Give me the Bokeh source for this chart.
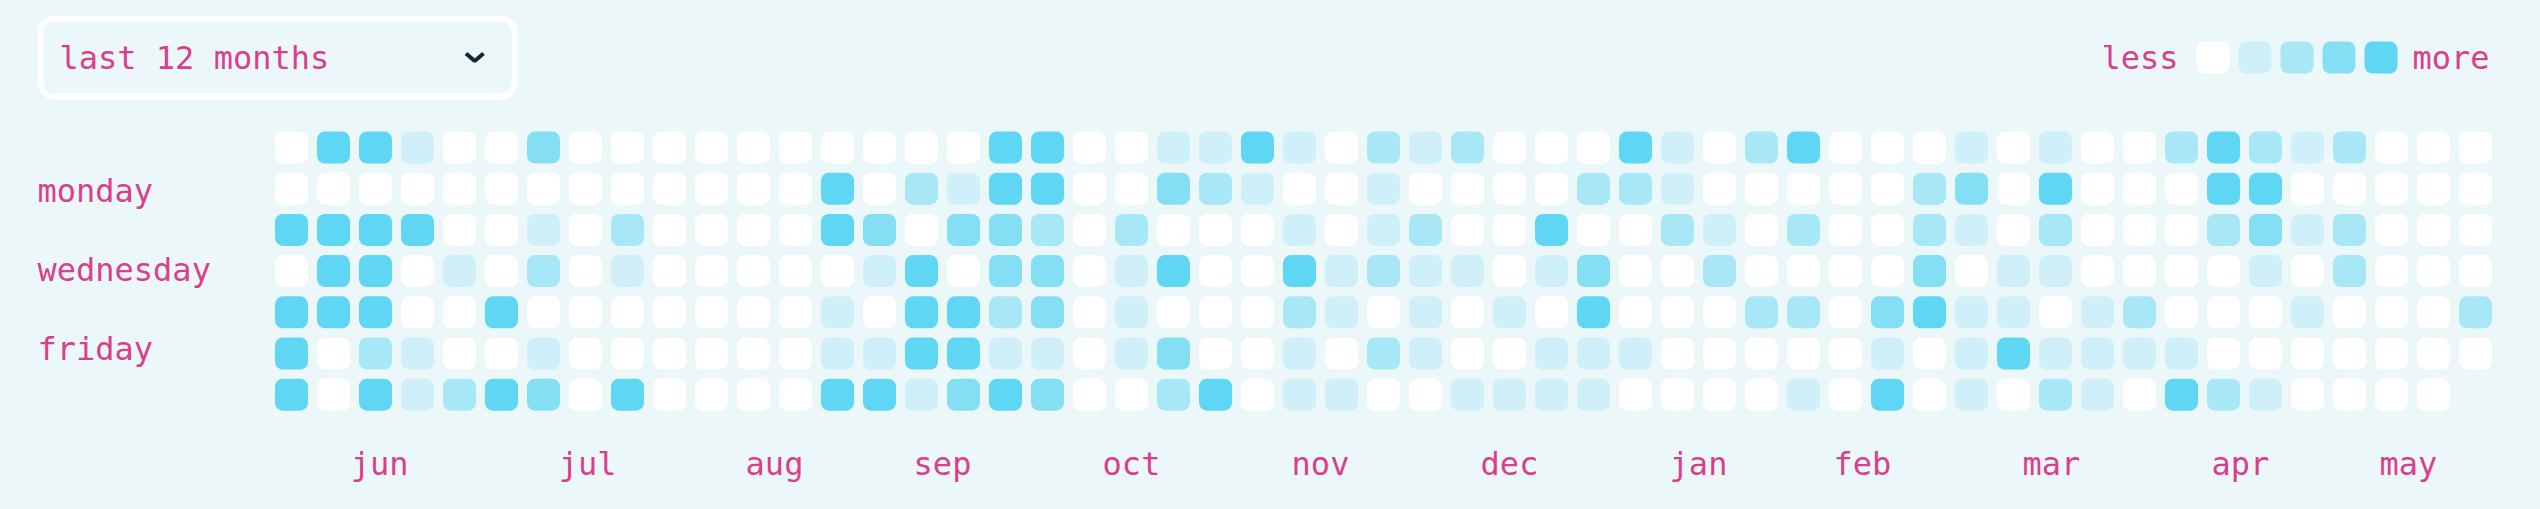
from bokeh.plotting import figure
from bokeh.models import ColumnDataSource, Range1d
from bokeh.embed import file_html
from bokeh.resources import INLINE
from bokeh.core.properties import value

# ---------------- data ----------------
period_label = "last 12 months"
day_labels = ["monday", "wednesday", "friday"]
day_label_rows = [1, 3, 5]
month_labels = ["jun", "jul", "aug", "sep", "oct", "nov", "dec", "jan", "feb", "mar", "apr", "may"]
month_positions = [2.1, 7.05, 11.5, 15.5, 20.0, 24.5, 29.0, 33.5, 37.4, 41.9, 46.4, 50.4]
level_colors = ["#ffffff", "#d0f0f9", "#a8e7f6", "#84dff4", "#5fd6f3"]
legend_levels = [0, 1, 2, 3, 4]

# activity level per weekday row (columns = weeks)
row_sun = [0, 4, 4, 1, 0, 0, 3, 0, 0, 0, 0,  0, 0, 0, 0, 0, 0, 4, 4, 0, 0,
           1, 1, 4, 1, 0, 2, 1, 2, 0, 0, 0,  4, 1, 0, 2, 4, 0, 0, 0, 1, 0,
           1, 0, 0, 2, 4, 2, 1, 2, 0, 0, 0]
row_mon = [0, 0, 0, 0, 0, 0, 0, 0, 0, 0, 0,  0, 0, 4, 0, 2, 1, 4, 4, 0, 0,
           3, 2, 1, 0, 0, 1, 0, 0, 0, 0, 2,  2, 1, 0, 0, 0, 0, 0, 2, 3, 0,
           4, 0, 0, 0, 4, 4, 0, 0, 0, 0, 0]
row_tue = [4, 4, 4, 4, 0, 0, 1, 0, 2, 0, 0,  0, 0, 4, 3, 0, 3, 3, 2, 0, 2,
           0, 0, 0, 1, 0, 1, 2, 0, 0, 4, 0,  0, 2, 1, 0, 2, 0, 0, 2, 1, 0,
           2, 0, 0, 0, 2, 3, 1, 2, 0, 0, 0]
row_wed = [0, 4, 4, 0, 1, 0, 2, 0, 1, 0, 0,  0, 0, 0, 1, 4, 0, 3, 3, 0, 1,
           4, 0, 0, 4, 1, 2, 1, 1, 0, 1, 3,  0, 0, 2, 0, 0, 0, 0, 3, 0, 1,
           1, 0, 0, 0, 0, 1, 0, 2, 0, 0, 0]
row_thu = [4, 4, 4, 0, 0, 4, 0, 0, 0, 0, 0,  0, 0, 1, 0, 4, 4, 2, 3, 0, 1,
           0, 0, 0, 2, 1, 0, 1, 0, 1, 0, 4,  0, 0, 0, 2, 2, 0, 3, 4, 1, 1,
           0, 1, 2, 0, 0, 0, 1, 0, 0, 0, 2]
row_fri = [4, 0, 2, 1, 0, 0, 1, 0, 0, 0, 0,  0, 0, 1, 1, 4, 4, 1, 1, 0, 1,
           3, 0, 0, 1, 0, 2, 1, 0, 0, 1, 1,  1, 0, 0, 0, 0, 0, 1, 0, 1, 4,
           1, 1, 1, 1, 0, 0, 0, 0, 0, 0, 0]
row_sat = [4, 0, 4, 1, 2, 4, 3, 0, 4, 0, 0,  0, 0, 4, 4, 1, 3, 4, 3, 0, 0,
           2, 4, 0, 1, 1, 0, 0, 1, 1, 1, 1,  0, 0, 0, 0, 1, 0, 4, 0, 1, 0,
           2, 1, 0, 4, 2, 1, 0, 0, 0, 0]
rows = [row_sun, row_mon, row_tue, row_wed, row_thu, row_fri, row_sat]

# ---------------- style / layout ----------------
BG = "#ecf7f9"
PINK = "#d93f8c"
FONT = value("DejaVu Sans Mono")
FSIZE = value("32px")
MARGIN = 8
W, H = 2524, 493
PX_COL, PX_ROW = 42.0, 41.2
GRID_X, GRID_Y = 291.0, 147.0  # page position of the centre of week 0 / row 0
HALF_W, HALF_H = 16.5 / PX_COL, 16.0 / PX_ROW
DAY_LABEL_Y0, DAY_LABEL_PITCH = 190.0, 39.5  # page px of first day label, px per weekday row

x0 = -(GRID_X - MARGIN) / PX_COL
ytop = -(GRID_Y - MARGIN) / PX_ROW


def fx(px):
    return x0 + (px - MARGIN) / PX_COL


def fy(py):
    return ytop + (py - MARGIN) / PX_ROW


p = figure(width=W, height=H, output_backend="svg", toolbar_location=None,
           x_range=Range1d(x0, x0 + W / PX_COL),
           y_range=Range1d(ytop + H / PX_ROW, ytop),
           min_border=0, background_fill_color=BG, border_fill_color=BG,
           outline_line_color=None)
p.axis.visible = False
p.grid.visible = False

# ---------------- cells ----------------
xs, ys, cs = [], [], []
for r, vals in enumerate(rows):
    for c, v in enumerate(vals):
        xs.append(c)
        ys.append(r)
        cs.append(level_colors[v])
src = ColumnDataSource(dict(
    left=[x - HALF_W for x in xs], right=[x + HALF_W for x in xs],
    top=[y - HALF_H for y in ys], bottom=[y + HALF_H for y in ys], color=cs))
p.quad(left="left", right="right", top="top", bottom="bottom", source=src,
       fill_color="color", line_color=None, border_radius=8)

text_kw = dict(text_font=FONT, text_font_size=FSIZE, text_color=PINK, text_baseline="middle")

# ---------------- day labels ----------------
p.text(x=[fx(37)] * len(day_labels),
       y=[fy(DAY_LABEL_Y0 + DAY_LABEL_PITCH * (r - day_label_rows[0])) for r in day_label_rows],
       text=day_labels, text_align="left", **text_kw)

# ---------------- month labels ----------------
p.text(x=month_positions, y=[fy(463)] * len(month_labels), text=month_labels,
       text_align="center", **text_kw)

# ---------------- legend ----------------
lx0 = fx(2212.5)
ly = fy(57)
p.quad(left=[lx0 + i - HALF_W for i in legend_levels],
       right=[lx0 + i + HALF_W for i in legend_levels],
       top=[ly - HALF_H] * len(legend_levels), bottom=[ly + HALF_H] * len(legend_levels),
       fill_color=[level_colors[i] for i in legend_levels], line_color=None, border_radius=8)
p.text(x=[fx(2178), fx(2412)], y=[fy(57.5), fy(57.5)], text=["less", "more"],
       text_align=["right", "left"], **text_kw)

# ---------------- period selector ----------------
p.quad(left=[fx(40)], right=[fx(514)], top=[fy(18)], bottom=[fy(96)],
       fill_alpha=0, line_color="#ffffff", line_width=6, border_radius=14)
p.text(x=[fx(59)], y=[fy(57.5)], text=[period_label], text_align="left", **text_kw)
p.line(x=[fx(465.5), fx(474.2), fx(483)], y=[fy(53), fy(60.5), fy(53)],
       line_color="#14272d", line_width=4)

html = file_html(p, INLINE)
style = ("<style>html{background:%s !important;} body{background:%s !important;"
         "margin:%dpx !important;height:auto !important;}</style>" % (BG, BG, MARGIN))
html = html.replace("</head>", style + "</head>", 1)
open("out.html", "w").write(html)
